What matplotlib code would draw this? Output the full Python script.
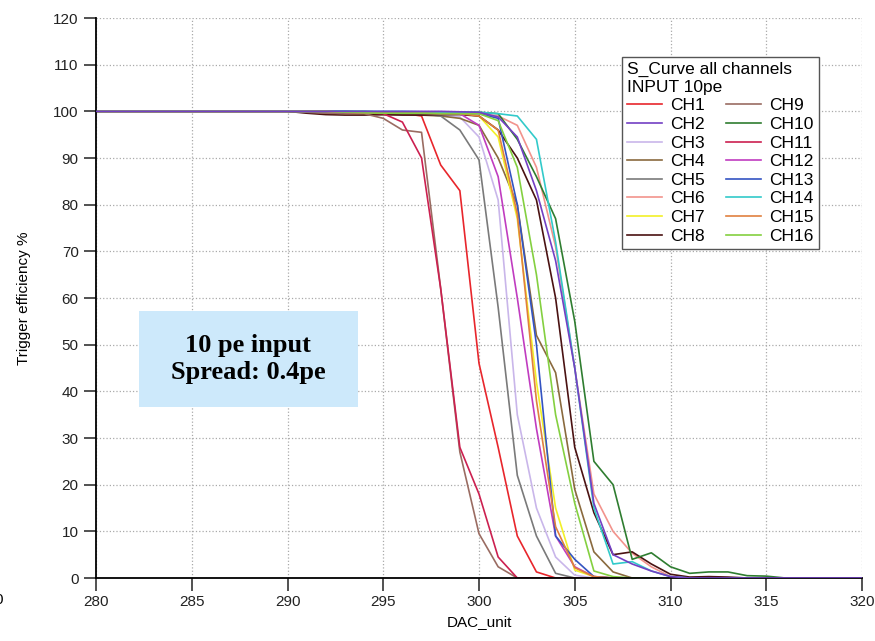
import matplotlib.pyplot as plt
from matplotlib.patches import Rectangle

plt.rcParams['font.family'] = ['Liberation Sans', 'DejaVu Sans']

# DAC values where the curves were sampled
dac = [280,
       290, 291, 292, 293, 294, 295, 296, 297, 298, 299,
       300, 301, 302, 303, 304, 305, 306, 307, 308, 309,
       310, 311, 312, 313, 314, 315, 316,
       320]

# trigger efficiency (%) per channel
ch1 = [100, 100, 100, 99.8, 99.7, 99.6, 99.5, 99.6, 99.0, 88.5, 83.0,
       46, 28, 9, 1.3, 0, 0, 0, 0, 0, 0, 0, 0, 0, 0, 0, 0, 0, 0]
ch2 = [100, 100, 100, 100, 100, 100, 100, 100, 100, 100, 99.9,
       99.8, 98.8, 94.5, 83, 68, 45, 16, 5, 3, 1.5, 0.3, 0, 0, 0, 0, 0, 0, 0]
ch3 = [100, 100, 100, 99.8, 99.7, 99.6, 99.5, 99.5, 99.3, 99.2, 98.8,
       94.5, 81, 35, 15, 4.5, 0.6, 0, 0, 0, 0, 0, 0, 0, 0, 0, 0, 0, 0]
ch4 = [100, 100, 99.8, 99.6, 99.5, 99.4, 99.3, 99.3, 99.2, 99.0, 98.5,
       97, 90, 80, 52, 44, 19, 5.6, 1.3, 0, 0, 0, 0, 0, 0, 0, 0, 0, 0]
ch5 = [100, 100, 100, 99.8, 99.7, 99.6, 99.5, 99.5, 99.5, 99.0, 96,
       89.6, 58, 22, 9, 1, 0, 0, 0, 0, 0, 0, 0, 0, 0, 0, 0, 0, 0]
ch6 = [100, 100, 100, 100, 99.8, 99.7, 99.6, 99.6, 99.5, 99.5, 99.5,
       99.5, 99, 97, 88, 71, 45, 18, 10, 5.3, 2.4, 0.3, 0, 0, 0, 0, 0, 0, 0]
ch7 = [100, 100, 100, 100, 100, 99.8, 99.7, 99.6, 99.6, 99.5, 99.5,
       99, 94.5, 77, 42, 15, 1.7, 0.3, 0, 0, 0, 0, 0, 0, 0, 0, 0, 0, 0]
ch8 = [100, 100, 99.6, 99.3, 99.2, 99.2, 99.3, 99.2, 99.2, 99.3, 99.3,
       99, 96, 90, 81, 60, 28, 14, 5, 5.6, 3, 0.8, 0.2, 0.3, 0.2, 0, 0, 0, 0]
ch9 = [100, 100, 99.8, 99.6, 99.5, 99.5, 98.5, 96, 95.5, 62, 27,
       9.5, 2.4, 0, 0, 0, 0, 0, 0, 0, 0, 0, 0, 0, 0, 0, 0, 0, 0]
ch10 = [100, 100, 100, 100, 100, 100, 99.8, 99.7, 99.6, 99.6, 99.8,
        99.8, 99.5, 94, 86, 77, 55, 25, 20, 4, 5.4, 2.4, 1, 1.3, 1.3, 0.5, 0.4, 0, 0]
ch11 = [100, 100, 100, 100, 99.8, 99.7, 99.5, 97.7, 90, 62, 28,
        18, 4.5, 0, 0, 0, 0, 0, 0, 0, 0, 0, 0, 0, 0, 0, 0, 0, 0]
ch12 = [100, 100, 100, 100, 99.8, 99.7, 99.6, 99.6, 99.6, 99.5, 99.5,
        97, 86, 60, 32, 9, 2.4, 0.3, 0, 0, 0, 0, 0, 0, 0, 0, 0, 0, 0]
ch13 = [100, 100, 100, 100, 100, 99.8, 99.7, 99.7, 99.6, 99.6, 99.6,
        99.5, 98.5, 80, 50, 9, 4, 0.3, 0, 0, 0, 0, 0, 0, 0, 0, 0, 0, 0]
ch14 = [100, 100, 100, 100, 100, 100, 100, 100, 99.9, 99.8, 99.8,
        99.8, 99.5, 99, 94, 72, 45, 15, 3, 3.5, 1.5, 0.3, 0, 0, 0, 0, 0, 0, 0]
ch15 = [100, 100, 100, 100, 99.8, 99.7, 99.6, 99.6, 99.6, 99.5, 99.5,
        99, 96, 78, 38, 11, 2.2, 0.3, 0, 0, 0, 0, 0, 0, 0, 0, 0, 0, 0]
ch16 = [100, 100, 100, 100, 99.8, 99.7, 99.6, 99.6, 99.6, 99.5, 99.5,
        99.5, 98, 88, 65, 35, 16, 1.5, 0.3, 0, 0, 0, 0, 0, 0, 0, 0, 0, 0]

channels = [ch1, ch2, ch3, ch4, ch5, ch6, ch7, ch8,
            ch9, ch10, ch11, ch12, ch13, ch14, ch15, ch16]
names = ['CH%d' % (i + 1) for i in range(16)]
colors = ['#e8262c', '#7340c4', '#c9b6ea', '#8a6a3e', '#7a7a7a', '#f2938c',
          '#f2f028', '#4a1212', '#9a6c62', '#2f7d30', '#cc2050', '#c03cc0',
          '#3454c2', '#32caca', '#e0803f', '#84d040']

fig = plt.figure(figsize=(8.75, 6.41), dpi=100)
ax = fig.add_axes([96 / 875, 63 / 641, 766 / 875, 560 / 641])

for i, (vals, name, c) in enumerate(zip(channels, names, colors)):
    z = 5 if name == 'CH2' else 2
    ax.plot(dac, vals, color=c, lw=1.2, label=name, zorder=z)

ax.set_xlim(280, 320)
ax.set_ylim(0, 120)
ax.set_xticks(range(280, 321, 5))
ax.set_yticks(range(0, 121, 10))
ax.grid(True, color='#aaaaaa', linestyle=':', linewidth=0.9)
ax.spines['top'].set_visible(False)
ax.spines['right'].set_visible(False)
ax.spines['left'].set_linewidth(1.3)
ax.spines['bottom'].set_linewidth(1.3)
ax.tick_params(direction='out', length=9, width=1.1, labelsize=11, colors='#222222')
ax.set_xlabel('DAC_unit', fontsize=11, labelpad=4)
ax.set_ylabel('Trigger efficiency %', fontsize=11, labelpad=16)

leg = ax.legend(ncol=2, loc='upper left', bbox_to_anchor=(622 / 875, 1 - 57 / 641),
                bbox_transform=fig.transFigure, borderaxespad=0,
                title='S_Curve all channels\nINPUT 10pe', title_fontsize=12.5,
                fontsize=12.5, fancybox=False, edgecolor='#555555', framealpha=1,
                handlelength=2.0, labelspacing=0.2, columnspacing=1.2,
                handletextpad=0.5, borderpad=0.3, alignment='left')
leg.get_frame().set_linewidth(1.0)

# annotation box
fig.patches.append(Rectangle((139 / 875, 1 - 407 / 641), 219 / 875, 96 / 641,
                             transform=fig.transFigure, facecolor='#cde9fb',
                             edgecolor='none', zorder=10))
fig.text(248 / 875, 1 - 359 / 641, '10 pe input\nSpread: 0.4pe',
         ha='center', va='center', fontsize=19, fontweight='bold',
         family='Liberation Serif', linespacing=1.25, zorder=11)

# clipped label at the left edge
fig.text(-6 / 875, 1 - 600 / 641, '0', fontsize=11, va='center', ha='left')

fig.savefig('out.png', dpi=100)
